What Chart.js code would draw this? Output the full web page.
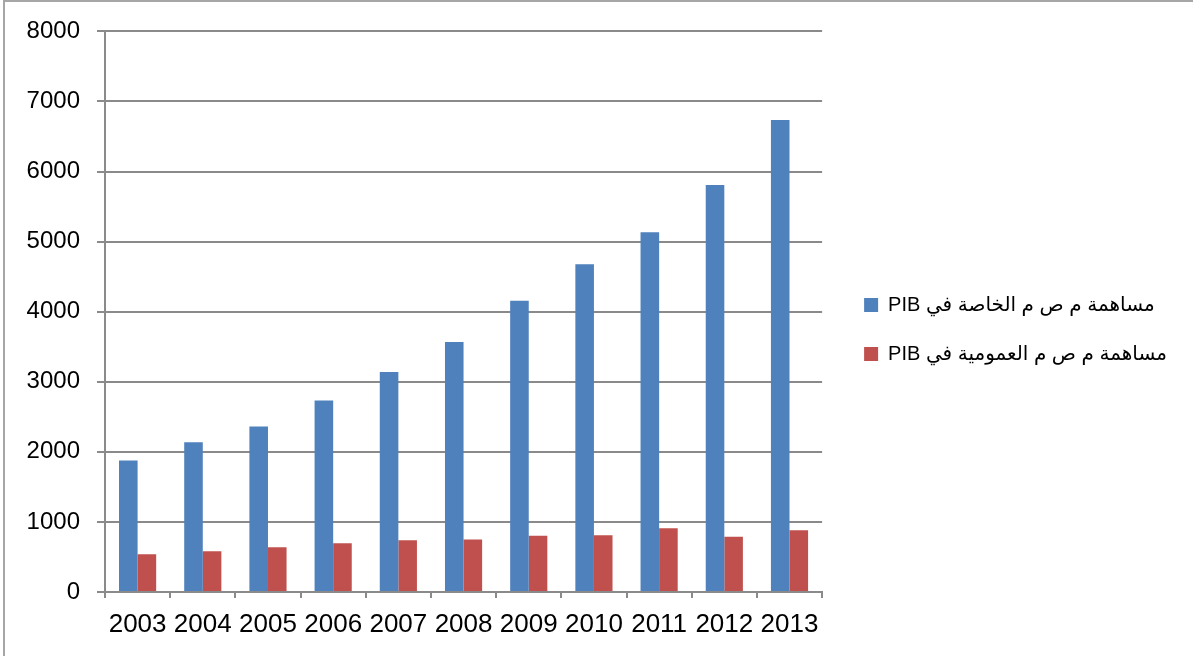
<!DOCTYPE html>
<html>
<head>
<meta charset="utf-8">
<script src="https://cdn.jsdelivr.net/npm/chart.js@4.4.1/dist/chart.umd.min.js"></script>
<style>
  html, body { margin: 0; padding: 0; background: #ffffff; }
  #wrap { position: relative; width: 1193px; height: 656px; overflow: hidden; }
  #frame { position: absolute; left: 3px; top: 0; width: 1300px; height: 700px;
           border-left: 2px solid #a6a6a6; border-top: 2px solid #a6a6a6; box-sizing: border-box; }
  #chart { position: absolute; left: 0; top: 0; }
</style>
</head>
<body>
<div id="wrap">
  <div id="frame"></div>
  <canvas id="chart" width="1193" height="656"></canvas>
</div>
<script>
// Years on the category axis
const years = ['2003', '2004', '2005', '2006', '2007', '2008', '2009', '2010', '2011', '2012', '2013'];

// Contribution of the private sector to GDP
const privateSector = [1878, 2138, 2361, 2732, 3138, 3568, 4158, 4678, 5135, 5808, 6737];

// Contribution of the public sector to GDP
const publicSector = [540, 583, 640, 697, 740, 748, 801, 811, 910, 787, 882];

// Series names shown in the legend
const seriesNames = ['مساهمة م ص م الخاصة في PIB', 'مساهمة م ص م العمومية في PIB'];

// Value axis range
const yMin = 0, yMax = 8000, yStep = 1000;

const fontFamily = "'Liberation Sans', 'DejaVu Sans', Arial, sans-serif";
const axisGray = '#8a8a8a';
Chart.defaults.font.family = fontFamily;
Chart.defaults.color = '#000000';

// Legend geometry; its width is measured so the plot keeps a fixed right edge
const legendFontSize = 20, legendBox = 14, legendPad = 29;
const plotRight = 822, legendGap = 13;
const canvas = document.getElementById('chart');
const mctx = canvas.getContext('2d');
mctx.font = legendFontSize + 'px ' + fontFamily;
const textWidth = Math.max(...seriesNames.map(s => mctx.measureText(s).width));
const legendWidth = Math.ceil(legendPad + legendBox + legendFontSize / 2 + textWidth + 10);
const padRight = Math.max(0, canvas.width - plotRight - legendGap - legendWidth);

new Chart(canvas, {
  type: 'bar',
  data: {
    labels: years,
    datasets: [
      { label: seriesNames[0], data: privateSector, backgroundColor: '#4F81BD' },
      { label: seriesNames[1], data: publicSector, backgroundColor: '#C0504D' }
    ]
  },
  options: {
    responsive: false,
    animation: false,
    events: [],
    categoryPercentage: 0.57,
    barPercentage: 1.0,
    layout: { padding: { top: 19, right: padRight, bottom: 16, left: 0 } },
    plugins: {
      tooltip: { enabled: false },
      legend: {
        position: 'right',
        maxWidth: legendWidth,
        textDirection: 'rtl',
        labels: {
          boxWidth: legendBox,
          boxHeight: legendBox,
          padding: legendPad,
          font: { size: legendFontSize },
          color: '#000000'
        }
      }
    },
    scales: {
      x: {
        grid: { drawOnChartArea: false, drawTicks: true, tickLength: 6, color: axisGray, lineWidth: 2, offset: true },
        border: { color: axisGray, width: 2 },
        ticks: { font: { size: 26 }, padding: 11, maxRotation: 0, autoSkip: false },
        afterFit(scale) { scale.height = 48; }
      },
      y: {
        min: yMin,
        max: yMax,
        grid: { color: axisGray, lineWidth: 2, tickLength: 8 },
        border: { color: axisGray, width: 2 },
        ticks: { stepSize: yStep, font: { size: 24 }, padding: 17, callback: v => String(v) },
        afterFit(scale) { scale.width = 105; }
      },
      // blank axes that set the space above the plot and before the legend
      gapTop: {
        type: 'linear',
        position: 'top',
        grid: { display: false },
        border: { display: false },
        ticks: { display: false },
        afterFit(scale) { scale.height = 11; }
      },
      gapRight: {
        type: 'linear',
        position: 'right',
        grid: { display: false },
        border: { display: false },
        ticks: { display: false },
        afterFit(scale) { scale.width = legendGap; }
      }
    }
  }
});
</script>
</body>
</html>
